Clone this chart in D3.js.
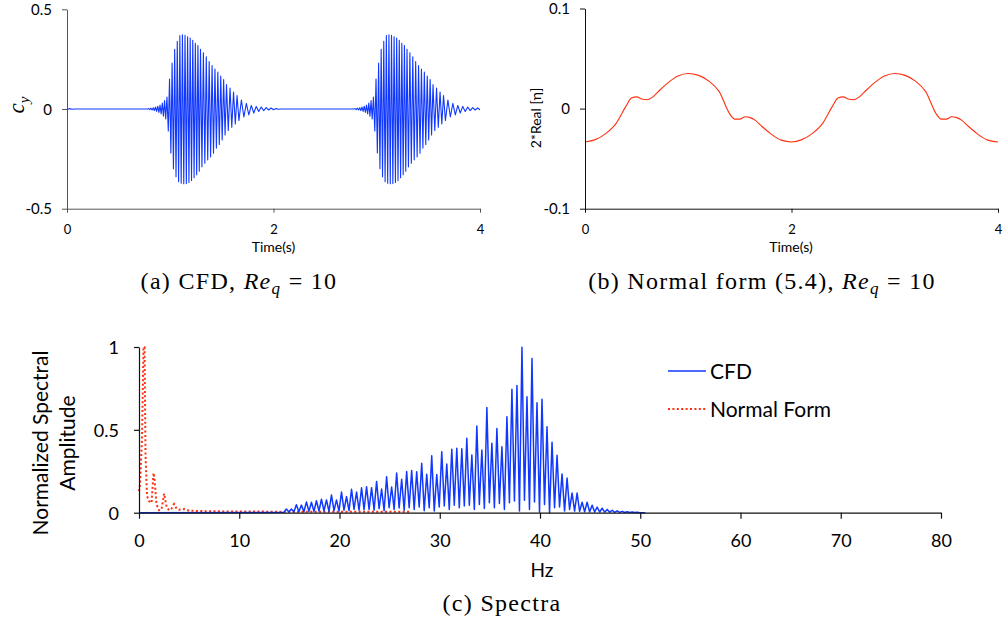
<!DOCTYPE html>
<html><head><meta charset="utf-8">
<script src="https://cdn.jsdelivr.net/npm/d3@7"></script>
<style>body{margin:0;background:#fff}</style>
</head><body>
<svg id="c" width="1008" height="621" xmlns="http://www.w3.org/2000/svg"></svg>
<script>
// ---------------- DATA ----------------
// (a) CFD lift coefficient: one burst (extremes of the oscillation), repeats every 2 s
const cfdBurstT = [0.780,0.791,0.802,0.813,0.824,0.835,0.846,0.857,0.868,0.879,0.890,0.901,0.912,0.923,0.934,0.945,0.956,
  0.968,0.981,0.993,1.006,1.018,1.031,1.043,1.056,1.068,1.081,1.093,1.106,1.118,1.131,1.143,1.156,1.168,1.181,1.193,1.206,1.218,1.231,1.243,1.256,1.268,1.281,1.293,
  1.307,1.321,1.335,1.349,1.363,1.377,1.391,1.405,1.419,1.433,1.447,1.461,1.475,1.489,1.503,1.517,1.531,1.545,
  1.562,1.579,1.596,1.613,1.630,1.647,
  1.665,1.689,1.713,1.737,1.761,1.785,1.809,1.833,1.857,1.881,1.905,1.929,1.953,1.977,2.001,2.025,2.049,2.073];
const cfdBurstV = [0.000,0.002,-0.003,0.004,-0.005,0.006,-0.008,0.010,-0.012,0.014,-0.017,0.020,-0.025,0.030,-0.036,0.042,-0.050,
  0.060,-0.110,0.150,-0.220,0.230,-0.300,0.300,-0.340,0.340,-0.365,0.368,-0.372,0.372,-0.375,0.370,-0.374,0.362,-0.368,0.356,-0.358,0.345,-0.345,0.330,-0.330,0.318,-0.312,0.300,
  -0.290,0.282,-0.272,0.262,-0.255,0.238,-0.240,0.218,-0.222,0.200,-0.196,0.185,-0.178,0.165,-0.155,0.148,-0.130,0.122,
  -0.108,0.105,-0.092,0.085,-0.075,0.068,
  -0.058,0.045,-0.040,0.028,-0.030,0.018,-0.020,0.013,-0.013,0.010,-0.008,0.007,-0.005,0.005,-0.004,0.002,-0.001,0.000];
const burstOffsets = [-2, 0, 2];

// (b) Normal form 2*Real[eta]
const nfT = [0,0.1,0.2,0.3,0.4,0.45,0.5,0.55,0.6,0.65,0.7,0.8,0.9,1.0,1.1,1.2,1.3,1.4,1.45,1.5,1.55,1.6,1.65,1.7,1.8,1.9,
             2.0,2.1,2.2,2.3,2.4,2.45,2.5,2.55,2.6,2.65,2.7,2.8,2.9,3.0,3.1,3.2,3.3,3.4,3.45,3.5,3.55,3.6,3.65,3.7,3.8,3.9,4.0];
const nfV = [-0.0333,-0.031,-0.025,-0.015,0.003,0.0105,0.0117,0.0095,0.0088,0.0112,0.0160,0.0255,0.0325,0.0350,0.0332,0.0275,0.0170,-0.0050,-0.0105,-0.0105,-0.0082,-0.0090,-0.0118,-0.0165,-0.0252,-0.0315,
             -0.0333,-0.031,-0.025,-0.015,0.003,0.0105,0.0117,0.0095,0.0088,0.0112,0.0160,0.0255,0.0325,0.0350,0.0332,0.0275,0.0170,-0.0050,-0.0105,-0.0105,-0.0082,-0.0090,-0.0118,-0.0165,-0.0252,-0.0315,-0.0333];

// (c) Spectra
const cfdPeakHz = [14.7,15.2,15.7,16.2,16.7,17.2,17.7,18.2,18.7,19.2,19.7,
  20.2,20.7,21.2,21.7,22.2,22.7,23.2,23.7,24.2,24.7,25.2,25.7,26.2,26.7,27.2,27.7,28.2,28.7,29.2,29.7,
  30.2,30.7,31.2,31.7,32.2,32.7,33.2,33.7,34.2,34.7,35.2,35.7,36.2,36.7,37.2,37.7,38.2,38.7,39.2,39.7,
  40.2,40.7,41.2,41.7,42.2,42.7,43.2,43.7,44.2,44.7,45.2,45.7,46.2,46.7,47.2,47.7,48.2,48.7,49.2,49.7];
const cfdPeakAmp = [0.022,0.022,0.048,0.046,0.065,0.063,0.072,0.081,0.077,0.107,0.077,
  0.125,0.097,0.141,0.125,0.150,0.157,0.151,0.189,0.143,0.217,0.155,0.240,0.202,0.248,0.254,0.247,0.298,0.232,0.344,0.230,
  0.368,0.294,0.383,0.389,0.386,0.449,0.348,0.523,0.378,0.635,0.419,0.508,0.398,0.579,0.745,0.768,0.998,0.700,0.930,0.664,
  0.684,0.519,0.425,0.346,0.234,0.209,0.119,0.119,0.063,0.063,0.045,0.034,0.027,0.020,0.015,0.011,0.008,0.006,0.004,0.003];
const cfdValleyAmp = [0.004,0.005,0.006,0.006,0.008,0.008,0.010,0.010,0.008,0.012,0.010,
  0.015,0.012,0.020,0.015,0.018,0.020,0.015,0.025,0.012,0.030,0.020,0.028,0.015,0.030,0.020,0.035,0.012,0.030,0.010,0.035,
  0.040,0.020,0.045,0.030,0.040,0.045,0.020,0.050,0.025,0.060,0.030,0.055,0.020,0.060,0.070,0.010,0.075,0.020,0.065,0.005,
  0.050,0.000,0.030,0.035,0.010,0.020,0.010,0.008,0.006,0.005,0.004,0.004,0.003,0.003,0.002,0.002,0.001,0.001,0.001,0.000];
const nfSpecHz  = [0,0.1,0.3,0.45,0.55,0.65,0.8,1.0,1.25,1.45,1.55,1.75,2.0,2.25,2.5,2.75,3.0,3.25,3.5,3.75,4.0,4.5,5.0,6,8,10,15,20,27];
const nfSpecAmp = [0.13,0.17,0.45,1.0,1.0,0.35,0.10,0.07,0.06,0.24,0.20,0.05,0.015,0.02,0.115,0.035,0.015,0.025,0.052,0.025,0.018,0.022,0.012,0.010,0.008,0.007,0.006,0.006,0.005];

const aXTicks=[0,2,4], aXLabels=["0","2","4"], aYTicks=[-0.5,0,0.5], aYLabels=["-0.5","0","0.5"];
const bXTicks=[0,2,4], bXLabels=["0","2","4"], bYTicks=[-0.1,0,0.1], bYLabels=["-0.1","0","0.1"];
const cXTicks=[0,10,20,30,40,50,60,70,80], cXLabels=["0","10","20","30","40","50","60","70","80"];
const cYTicks=[0,0.5,1], cYLabels=["0","0.5","1"];
const legendNames=["CFD","Normal Form"];

// ---------------- DRAW ----------------
const SANS = "Lato, 'Open Sans', sans-serif";
const SERIF = "'Liberation Serif', 'DejaVu Serif', serif";
const BLUE = "#1038ff", RED = "#ff3010";
const svg = d3.select("#c");

function axes(g, x, y, o) {
  const gx = g.append("g").attr("transform", `translate(0,${o.xAxisY})`)
    .call(d3.axisBottom(x).tickValues(o.xTicks).tickFormat((d,i)=>o.xLabels[i]).tickSizeInner(o.xTickLen).tickSizeOuter(0));
  gx.selectAll("text").attr("y", o.xLabelBase - o.xAxisY).attr("dy", null)
    .style("font-family", SANS).style("font-size", o.xFs + "px").attr("fill", "#000");
  const gy = g.append("g").attr("transform", `translate(${o.yAxisX},0)`)
    .call(d3.axisLeft(y).tickValues(o.yTicks).tickFormat((d,i)=>o.yLabels[i]).tickSizeInner(o.yTickLen).tickSizeOuter(0));
  gy.selectAll("text").attr("x", o.yLabelRight - o.yAxisX).attr("dy", "0.35em")
    .style("font-family", SANS).style("font-size", o.yFs + "px").attr("fill", "#000");
  [gx, gy].forEach(a => {
    a.select(".domain").attr("stroke", o.axisColor).attr("stroke-width", o.axisW || 1);
    a.selectAll(".tick line").attr("stroke", o.axisColor).attr("stroke-width", o.axisW || 1);
  });
}

// ----- Panel (a)
const xa = d3.scaleLinear().domain([0,4]).range([67,480]);
const ya = d3.scaleLinear().domain([-0.5,0.5]).range([208.7,9.3]);
const ga = svg.append("g");
ga.append("clipPath").attr("id","clipA").append("rect").attr("x",67).attr("y",0).attr("width",413).attr("height",215);
const aPts = [];
burstOffsets.forEach(off => cfdBurstT.forEach((t,i) => aPts.push([t+off, cfdBurstV[i]])));
ga.append("path").attr("clip-path","url(#clipA)").datum(aPts)
  .attr("d", d3.line().x(d=>xa(d[0])).y(d=>ya(d[1])))
  .attr("fill","none").attr("stroke",BLUE).attr("stroke-width",1.1).attr("stroke-linejoin","round");
axes(ga, xa, ya, {xAxisY:208.7, xTicks:aXTicks, xLabels:aXLabels, xTickLen:4, xLabelBase:234, xFs:13,
  yAxisX:67, yTicks:aYTicks, yLabels:aYLabels, yTickLen:5, yLabelRight:52, yFs:15, axisColor:"#555"});
ga.append("text").attr("x",273.5).attr("y",252).attr("text-anchor","middle")
  .style("font-family",SANS).style("font-size","14px").text("Time(s)");
{
  const t = ga.append("text").attr("transform","translate(24,105) rotate(-90)").attr("text-anchor","middle")
    .style("font-family",SERIF).style("font-style","italic").style("font-size","23px");
  t.append("tspan").text("c");
  t.append("tspan").attr("dy",5).style("font-size","15px").text("y");
}
function caption(x, yb, parts) {
  const t = svg.append("text").attr("x",x).attr("y",yb).attr("text-anchor","middle")
    .style("font-family",SERIF).style("font-size","24px").style("letter-spacing","1.3px");
  parts.forEach(p => {
    const s = t.append("tspan").text(p.t);
    if (p.i) s.style("font-style","italic");
    if (p.sub) s.attr("dy",5).style("font-size","17px");
    if (p.up) s.attr("dy",-5);
  });
}
caption(239, 289, [{t:"(a) CFD, "},{t:"Re",i:1},{t:"q",i:1,sub:1},{t:" = 10",up:1}]);

// ----- Panel (b)
const xb = d3.scaleLinear().domain([0,4]).range([585,998]);
const yb = d3.scaleLinear().domain([-0.1,0.1]).range([208.7,8.5]);
const gb = svg.append("g");
gb.append("path").datum(nfT.map((t,i)=>[t,nfV[i]]))
  .attr("d", d3.line().x(d=>xb(d[0])).y(d=>yb(d[1])).curve(d3.curveMonotoneX))
  .attr("fill","none").attr("stroke",RED).attr("stroke-width",1.1);
axes(gb, xb, yb, {xAxisY:208.7, xTicks:bXTicks, xLabels:bXLabels, xTickLen:4, xLabelBase:234, xFs:13,
  yAxisX:585, yTicks:bYTicks, yLabels:bYLabels, yTickLen:5, yLabelRight:570, yFs:15, axisColor:"#111"});
gb.append("text").attr("x",791).attr("y",252).attr("text-anchor","middle")
  .style("font-family",SANS).style("font-size","14px").text("Time(s)");
gb.append("text").attr("transform","translate(541,118) rotate(-90)").attr("text-anchor","middle")
  .style("font-family",SANS).style("font-size","14px").text("2*Real [η]");
caption(762, 289, [{t:"(b) Normal form (5.4), "},{t:"Re",i:1},{t:"q",i:1,sub:1},{t:" = 10",up:1}]);

// ----- Panel (c)
const xc = d3.scaleLinear().domain([0,80]).range([139,941]);
const yc = d3.scaleLinear().domain([0,1]).range([512.7,347]);
const gc = svg.append("g");
const cPts = [[0,0],[14.45,0.002]];
cfdPeakHz.forEach((f,i)=>{ cPts.push([f, cfdPeakAmp[i]]); cPts.push([f+0.25, cfdValleyAmp[i]]); });
cPts.push([50.5,0]);
gc.append("path").datum(nfSpecHz.map((f,i)=>[f,nfSpecAmp[i]]))
  .attr("d", d3.line().x(d=>xc(d[0])).y(d=>yc(d[1])))
  .attr("fill","none").attr("stroke",RED).attr("stroke-width",2).attr("stroke-dasharray","2,2.4");
gc.append("path").datum(cPts)
  .attr("d", d3.line().x(d=>xc(d[0])).y(d=>yc(d[1])))
  .attr("fill","none").attr("stroke",BLUE).attr("stroke-width",1.5).attr("stroke-linejoin","round");
axes(gc, xc, yc, {xAxisY:512.7, xTicks:cXTicks, xLabels:cXLabels, xTickLen:6, xLabelBase:547, xFs:18,
  yAxisX:139, yTicks:cYTicks, yLabels:cYLabels, yTickLen:5, yLabelRight:119, yFs:18, axisColor:"#111", axisW:1.2});
gc.append("text").attr("x",542).attr("y",577).attr("text-anchor","middle")
  .style("font-family",SANS).style("font-size","19px").text("Hz");
gc.append("text").attr("transform","translate(48,443) rotate(-90)").attr("text-anchor","middle")
  .style("font-family",SANS).style("font-size","21px").text("Normalized Spectral");
gc.append("text").attr("transform","translate(75,443) rotate(-90)").attr("text-anchor","middle")
  .style("font-family",SANS).style("font-size","21px").text("Amplitude");
// legend
const lg = gc.append("g");
[{y:371, c:BLUE, dash:null, w:1.5},{y:409, c:RED, dash:"2,2.4", w:2}].forEach((s,i)=>{
  lg.append("line").attr("x1",668).attr("x2",706).attr("y1",s.y).attr("y2",s.y)
    .attr("stroke",s.c).attr("stroke-width",s.w).attr("stroke-dasharray",s.dash);
  lg.append("text").attr("x",710).attr("y",s.y+8).style("font-family",SANS).style("font-size","21px").text(legendNames[i]);
});
caption(502, 611, [{t:"(c) Spectra"}]);
</script>
</body></html>
